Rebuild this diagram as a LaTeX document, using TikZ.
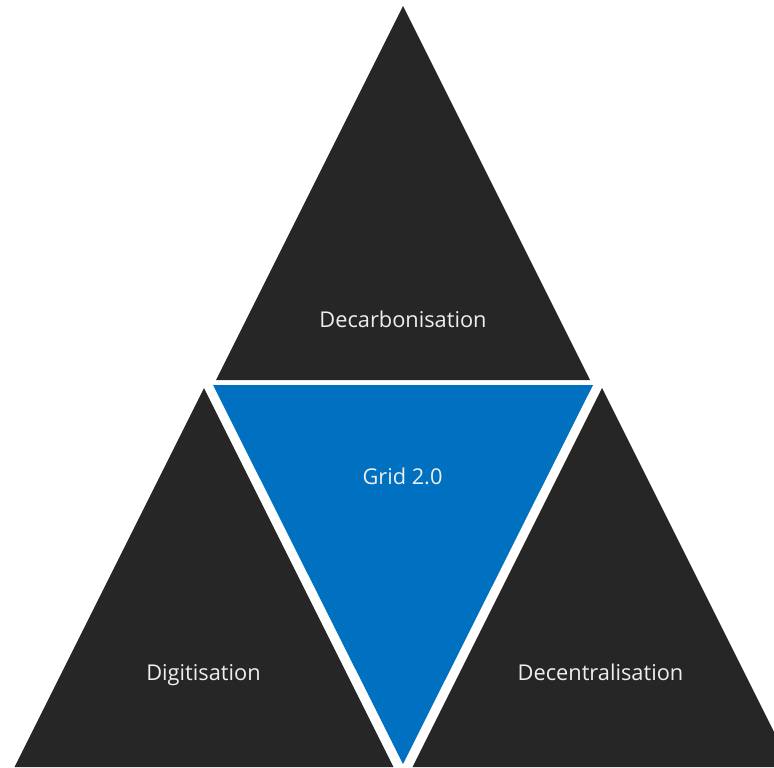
\documentclass[tikz,border=0pt]{standalone}
\usepackage{fontspec}
\setmainfont{Open Sans}
\usepackage{tkz-euclide}
\definecolor{darkgray}{HTML}{262626}
\definecolor{gridblue}{HTML}{0070C0}
\definecolor{label}{HTML}{EEEEEE}
\tikzset{lbl/.style={text=label,anchor=base,inner sep=0pt,font=\fontsize{6.2}{7}\selectfont}}

\begin{document}
\begin{tikzpicture}
\useasboundingbox (0,0) rectangle (7.74,7.67);
\clip (0,0) rectangle (7.74,7.67);
\tkzDefPoints{4.03/7.61/A,2.16/3.87/B,5.90/3.87/C}
\tkzDefPoints{2.13/3.82/P,5.93/3.82/Q,4.03/0.03/R}
\tkzDefPoints{2.04/3.79/L,0.145/0/L1,3.935/0/L2}
\tkzDefPoints{6.02/3.79/M,4.125/0/M1,7.915/0/M2}
\fill[darkgray](A)--(B)--(C)--cycle;
\fill[gridblue](P)--(Q)--(R)--cycle;
\fill[darkgray](L)--(L1)--(L2)--cycle (M)--(M1)--(M2)--cycle;
\node[lbl](dec) at (4.03,4.40) {Decarbonisation};
\node[lbl](grid) at (4.025,2.83) {Grid 2.0};
\node[lbl](dig) at (2.035,0.87) {Digitisation};
\node[lbl](cen) at (6.005,0.87) {Decentralisation};
\end{tikzpicture}
\end{document}
